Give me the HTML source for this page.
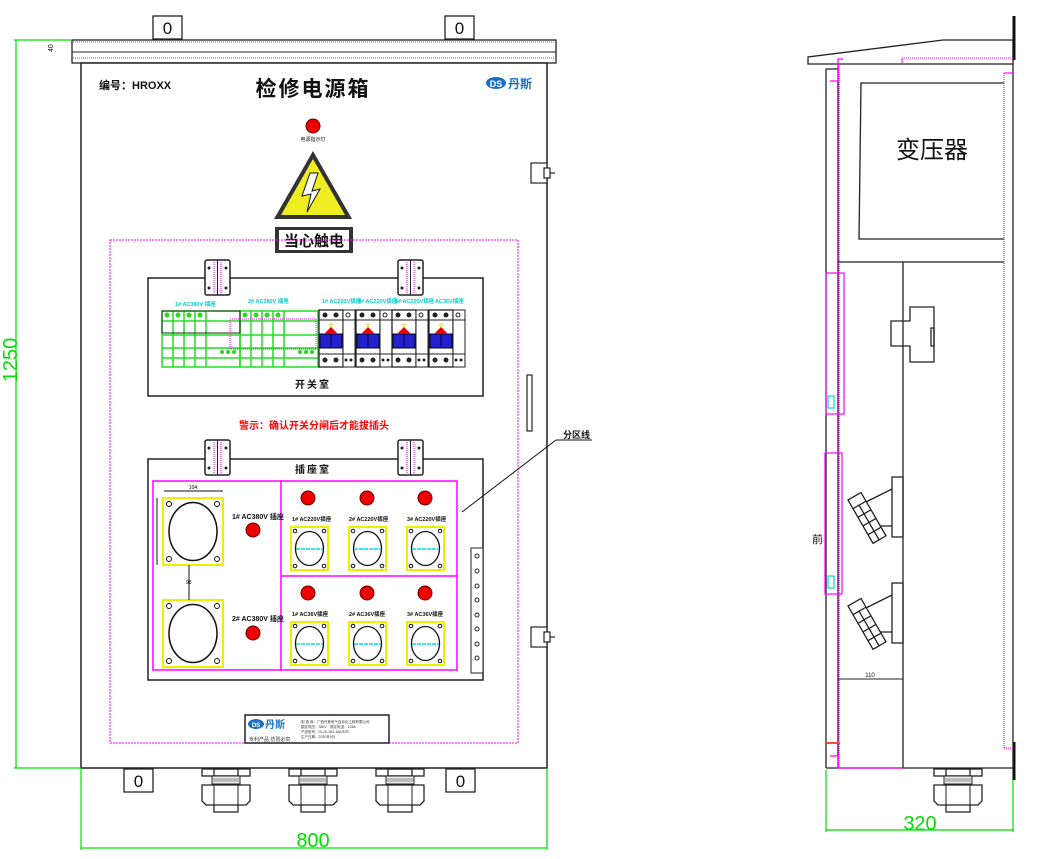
<!DOCTYPE html>
<html><head><meta charset="utf-8"><style>
html,body{margin:0;padding:0;background:#fff;}
svg{display:block;font-family:"Liberation Sans","Noto Sans CJK SC",sans-serif;}
</style></head><body>
<svg width="1045" height="859" viewBox="0 0 1045 859" xmlns="http://www.w3.org/2000/svg">
<defs>
<g id="hinge"><rect x="0" y="0" width="25" height="35" fill="#fff" stroke="#222" stroke-width="1.5" rx="2"/><line x1="12.5" y1="0" x2="12.5" y2="35" stroke="#222"/><line x1="9" y1="2" x2="9" y2="33" stroke="#f0f" stroke-dasharray="1,1"/><line x1="16" y1="2" x2="16" y2="33" stroke="#f0f" stroke-dasharray="1,1"/><circle cx="4" cy="8" r="1.5" fill="#222"/><circle cx="21" cy="8" r="1.5" fill="#222"/><circle cx="4" cy="28" r="1.5" fill="#222"/><circle cx="21" cy="28" r="1.5" fill="#222"/></g>
<g id="gland"><rect x="-24" y="0" width="48" height="7" fill="#fff" stroke="#222" stroke-width="1.3"/><rect x="-12" y="0" width="24" height="7" fill="none" stroke="#222" stroke-width="1.3"/><rect x="-14" y="7" width="28" height="8" fill="#eee" stroke="#222"/><line x1="-13" y1="10" x2="13" y2="10" stroke="#888"/><line x1="-13" y1="12" x2="13" y2="12" stroke="#888"/><path d="M-24 16 H24 V32 L20 36 H-20 L-24 32 Z" fill="#fff" stroke="#222" stroke-width="1.3"/><line x1="-12" y1="16" x2="-12" y2="36" stroke="#222"/><line x1="12" y1="16" x2="12" y2="36" stroke="#222"/><path d="M-12 36 V43 H12 V36" fill="none" stroke="#222" stroke-width="1.3"/></g>
<g id="tab"><rect x="0" y="0" width="29" height="23" fill="#fff" stroke="#222" stroke-width="1.3"/><text x="14.5" y="18" font-size="17" text-anchor="middle" fill="#111">0</text></g>
<g id="led"><circle r="7" fill="#e00" stroke="#600" stroke-width="1"/></g>
<g id="ssock"><rect x="0" y="0" width="37" height="43" fill="#fff" stroke="#ee0" stroke-width="2"/><ellipse cx="18.5" cy="21.5" rx="14" ry="17" fill="#fff" stroke="#111" stroke-width="1.3"/><line x1="5" y1="22" x2="32" y2="22" stroke="#0dd" stroke-width="1.5" stroke-dasharray="4,1"/><circle cx="4" cy="4" r="1.8" fill="none" stroke="#111"/><circle cx="33" cy="4" r="1.8" fill="none" stroke="#111"/><circle cx="4" cy="39" r="1.8" fill="none" stroke="#111"/><circle cx="33" cy="39" r="1.8" fill="none" stroke="#111"/></g>
<g id="bsock"><rect x="0" y="0" width="60" height="67" fill="#fff" stroke="#ee0" stroke-width="2"/><ellipse cx="30" cy="33.5" rx="24" ry="29" fill="#fff" stroke="#111" stroke-width="1.5"/><circle cx="6" cy="6" r="2.5" fill="none" stroke="#111"/><circle cx="54" cy="6" r="2.5" fill="none" stroke="#111"/><circle cx="6" cy="61" r="2.5" fill="none" stroke="#111"/><circle cx="54" cy="61" r="2.5" fill="none" stroke="#111"/></g>
<g id="brk"><rect x="0" y="0" width="24" height="57" fill="#fff" stroke="#222" stroke-width="1.3"/><rect x="24" y="0" width="12" height="57" fill="#fff" stroke="#222"/><line x1="0" y1="10" x2="36" y2="10" stroke="#222"/><line x1="0" y1="44" x2="36" y2="44" stroke="#222"/><circle cx="6" cy="5" r="2.5" fill="#222"/><circle cx="17" cy="5" r="2.5" fill="#222"/><circle cx="29" cy="5" r="2" fill="none" stroke="#222"/><circle cx="6" cy="50" r="2.5" fill="#222"/><circle cx="17" cy="50" r="2.5" fill="#222"/><circle cx="27" cy="50" r="1.5" fill="#222"/><circle cx="32" cy="50" r="1.5" fill="#222"/><rect x="1" y="24" width="22" height="14" fill="#22c" stroke="#003"/><path d="M5 24 L12 17 L19 24 Z" fill="#e00"/><circle cx="12" cy="15" r="2" fill="#ee6"/><line x1="12" y1="24" x2="12" y2="36" stroke="#003"/></g>
</defs>

<!-- LEFT VIEW -->
<use href="#tab" x="153" y="16"/><use href="#tab" x="445" y="16"/>
<rect x="72" y="40" width="484" height="23" fill="#fff" stroke="#222" stroke-width="1.3"/>
<line x1="72" y1="52" x2="556" y2="52" stroke="#222"/>
<line x1="73" y1="42" x2="555" y2="42" stroke="#f0f" stroke-dasharray="1,1"/>
<line x1="73" y1="58" x2="555" y2="58" stroke="#f0f" stroke-dasharray="1,1"/>
<rect x="81" y="63" width="466" height="705" fill="#fff" stroke="#222" stroke-width="1.5"/>

<!-- dimensions -->
<g stroke="#0d0" stroke-width="1.2" fill="none">
<line x1="16" y1="40" x2="16" y2="768"/><line x1="14" y1="40" x2="72" y2="40"/><line x1="14" y1="768" x2="81" y2="768"/>
<line x1="81" y1="768" x2="81" y2="850"/><line x1="547" y1="768" x2="547" y2="850"/><line x1="81" y1="848" x2="547" y2="848"/>
<line x1="826" y1="770" x2="826" y2="832"/><line x1="1013" y1="770" x2="1013" y2="832"/><line x1="826" y1="830" x2="1013" y2="830"/>
</g>
<text x="0" y="0" transform="translate(17,360) rotate(-90)" font-size="20" fill="#0d0" text-anchor="middle">1250</text>
<text x="313" y="847" font-size="20" fill="#0d0" text-anchor="middle">800</text>
<text x="920" y="830" font-size="20" fill="#0d0" text-anchor="middle">320</text>
<text transform="translate(53,52) rotate(-90)" font-size="7" fill="#111">40</text>

<text x="99" y="89" font-size="11" font-weight="bold" fill="#111">编号：HROXX</text>
<text x="313" y="96" font-size="21" font-weight="bold" fill="#111" text-anchor="middle" letter-spacing="2">检修电源箱</text>
<ellipse cx="496" cy="83" rx="10" ry="6" fill="#1a6fc0"/><text x="496" y="87" font-size="9" fill="#fff" font-weight="bold" text-anchor="middle">DS</text>
<text x="508" y="88" font-size="12" font-weight="bold" fill="#1a6fc0">丹斯</text>

<use href="#led" x="313" y="126"/>
<text x="313" y="141" font-size="5" fill="#111" text-anchor="middle">电源指示灯</text>
<path d="M313 151 L352 219 L274 219 Z" fill="#333"/>
<path d="M313 159 L345 215 L281 215 Z" fill="#ee2"/>
<path d="M310 173 L302 196 L311 194 L307 212 L320 189 L312 191 L318 173 Z" fill="#fff" stroke="#111"/>
<rect x="275" y="227" width="78" height="26" fill="#333"/>
<rect x="279" y="230" width="70" height="20" fill="#fff"/>
<text x="314" y="246" font-size="15" font-weight="bold" fill="#111" text-anchor="middle">当心触电</text>

<rect x="110" y="240" width="408" height="503" fill="none" stroke="#f0f" stroke-dasharray="2,1"/>

<!-- switch room -->
<rect x="148" y="278" width="335" height="118" fill="none" stroke="#222" stroke-width="1.5"/>
<use href="#hinge" x="205" y="260"/><use href="#hinge" x="398" y="260"/>
<g font-size="5.5" fill="#0cc" font-weight="bold">
<text x="175" y="306">1# AC380V 插座</text><text x="248" y="303">2# AC380V 插座</text>
<text x="322" y="303">1# AC220V插座</text><text x="358" y="303">2# AC220V插座</text><text x="395" y="303">3# AC220V插座</text><text x="435" y="303">AC36V插座</text>
</g>
<g stroke="#2d2" stroke-width="1.5" fill="none">
<rect x="162" y="311" width="78" height="56"/><rect x="240" y="311" width="78" height="56"/>
<line x1="162" y1="321" x2="318" y2="321"/><line x1="162" y1="335" x2="318" y2="335"/><line x1="162" y1="348" x2="318" y2="348"/><line x1="162" y1="358" x2="318" y2="358"/>
<line x1="173" y1="311" x2="173" y2="367"/><line x1="184" y1="311" x2="184" y2="367"/><line x1="195" y1="311" x2="195" y2="367"/><line x1="206" y1="311" x2="206" y2="367"/>
<line x1="251" y1="311" x2="251" y2="367"/><line x1="262" y1="311" x2="262" y2="367"/><line x1="273" y1="311" x2="273" y2="367"/><line x1="284" y1="311" x2="284" y2="367"/>
</g>
<g fill="#2d2"><circle cx="167" cy="315" r="2.5"/><circle cx="178" cy="315" r="2.5"/><circle cx="189" cy="315" r="2.5"/><circle cx="200" cy="315" r="2.5"/><circle cx="245" cy="315" r="2.5"/><circle cx="256" cy="315" r="2.5"/><circle cx="267" cy="315" r="2.5"/><circle cx="278" cy="315" r="2.5"/><circle cx="222" cy="352" r="2"/><circle cx="228" cy="352" r="2"/><circle cx="234" cy="352" r="2"/><circle cx="300" cy="352" r="2"/><circle cx="306" cy="352" r="2"/><circle cx="312" cy="352" r="2"/></g>
<rect x="162" y="311" width="78" height="22" fill="none" stroke="#222"/>
<rect x="230" y="319" width="86" height="30" fill="none" stroke="#f0f" stroke-dasharray="1,1"/>
<use href="#brk" x="319" y="310"/><use href="#brk" x="356" y="310"/><use href="#brk" x="392" y="310"/><use href="#brk" x="429" y="310"/>
<text x="313" y="388" font-size="10" font-weight="bold" fill="#111" text-anchor="middle" letter-spacing="2">开关室</text>
<text x="314" y="429" font-size="10" font-weight="bold" fill="#f00" text-anchor="middle">警示：确认开关分闸后才能拔插头</text>

<!-- socket room -->
<rect x="148" y="459" width="335" height="221" fill="none" stroke="#222" stroke-width="1.5"/>
<use href="#hinge" x="205" y="440"/><use href="#hinge" x="398" y="440"/>
<text x="313" y="473" font-size="10" font-weight="bold" fill="#111" text-anchor="middle" letter-spacing="2">插座室</text>
<rect x="153" y="481" width="304" height="189" fill="none" stroke="#f0f" stroke-width="1.5"/>
<line x1="281" y1="481" x2="281" y2="670" stroke="#f0f" stroke-width="1.5"/>
<line x1="281" y1="576" x2="457" y2="576" stroke="#f0f" stroke-width="1.5"/>
<use href="#bsock" x="163" y="498"/><use href="#bsock" x="163" y="600"/>
<line x1="164" y1="491" x2="223" y2="491" stroke="#111"/><text x="193" y="489" font-size="5" text-anchor="middle">104</text>
<line x1="157" y1="498" x2="157" y2="565" stroke="#111"/>
<line x1="189" y1="565" x2="189" y2="600" stroke="#111"/><text x="186" y="584" font-size="5">98</text>
<text x="232" y="519" font-size="7" font-weight="bold" fill="#111">1# AC380V 插座</text><use href="#led" x="253" y="530"/>
<text x="232" y="621" font-size="7" font-weight="bold" fill="#111">2# AC380V 插座</text><use href="#led" x="253" y="633"/>
<use href="#led" x="308" y="498"/><use href="#led" x="367" y="498"/><use href="#led" x="425" y="498"/>
<use href="#led" x="308" y="593"/><use href="#led" x="367" y="593"/><use href="#led" x="425" y="593"/>
<g font-size="5.5" font-weight="bold" fill="#111">
<text x="292" y="521">1# AC220V插座</text><text x="349" y="521">2# AC220V插座</text><text x="407" y="521">3# AC220V插座</text>
<text x="292" y="616">1# AC36V插座</text><text x="349" y="616">2# AC36V插座</text><text x="407" y="616">3# AC36V插座</text>
</g>
<use href="#ssock" x="291" y="527"/><use href="#ssock" x="349" y="527"/><use href="#ssock" x="407" y="527"/>
<use href="#ssock" x="291" y="622"/><use href="#ssock" x="349" y="622"/><use href="#ssock" x="407" y="622"/>
<rect x="471" y="548" width="12" height="125" fill="#fff" stroke="#222"/>
<g fill="none" stroke="#222"><circle cx="477" cy="556" r="2"/><circle cx="477" cy="571" r="2"/><circle cx="477" cy="586" r="2"/><circle cx="477" cy="600" r="2"/><circle cx="477" cy="615" r="2"/><circle cx="477" cy="629" r="2"/><circle cx="477" cy="644" r="2"/><circle cx="477" cy="658" r="2"/></g>
<line x1="462" y1="512" x2="556" y2="440" stroke="#111"/>
<line x1="556" y1="440" x2="592" y2="440" stroke="#111"/>
<text x="563" y="438" font-size="9" font-weight="bold" fill="#111">分区线</text>

<!-- door hinges & handle -->
<g fill="#fff" stroke="#222" stroke-width="1.2">
<rect x="531" y="163" width="16" height="20"/><rect x="544" y="168" width="6" height="10"/><line x1="550" y1="173" x2="555" y2="173"/>
<rect x="531" y="627" width="16" height="20"/><rect x="544" y="632" width="6" height="10"/><line x1="550" y1="637" x2="555" y2="637"/>
<rect x="527" y="375" width="5" height="56"/>
</g>

<!-- nameplate -->
<rect x="245" y="715" width="144" height="28" fill="#fff" stroke="#222" stroke-width="1.5"/>
<ellipse cx="256" cy="724" rx="8" ry="5" fill="#1a6fc0"/><text x="256" y="727" font-size="6" fill="#fff" font-weight="bold" text-anchor="middle">DS</text>
<text x="265" y="728" font-size="10" font-weight="bold" fill="#1a6fc0">丹斯</text>
<text x="249" y="741" font-size="5" fill="#333">专利产品 仿冒必究</text>
<g font-size="3.5" fill="#333"><text x="301" y="723">制 造 商：广西丹斯电气自动化工程有限公司</text><text x="301" y="728">额定电压：380V　额定电流：125A</text><text x="301" y="733">产品型号：DLJX-283-4A6/32B</text><text x="301" y="738">生产日期：2020年9月</text></g>

<!-- bottom -->
<use href="#tab" x="124" y="769"/><use href="#tab" x="446" y="769"/>
<use href="#gland" x="226" y="769"/><use href="#gland" x="313" y="769"/><use href="#gland" x="400" y="769"/>

<!-- RIGHT VIEW -->
<path d="M808 57 L808 64 L1013 64 L1013 40 L943 40 Z" fill="#fff" stroke="#222" stroke-width="1.3"/>
<line x1="1014" y1="16" x2="1014" y2="60" stroke="#111" stroke-width="3"/>
<line x1="1014" y1="742" x2="1014" y2="780" stroke="#111" stroke-width="3"/>
<line x1="902" y1="58" x2="1013" y2="58" stroke="#f0f" stroke-dasharray="1,1"/>
<line x1="902" y1="58" x2="902" y2="63" stroke="#f0f"/>
<g fill="none" stroke="#222" stroke-width="1.3">
<path d="M826 768 V69 H838"/><line x1="838" y1="64" x2="838" y2="768"/><line x1="1013" y1="64" x2="1013" y2="768"/>
<line x1="826" y1="768" x2="1013" y2="768"/>
<path d="M1004 83 H861 L859 239 H1004"/>
<line x1="838" y1="262" x2="1004" y2="262"/><line x1="903" y1="262" x2="903" y2="768"/>
<path d="M910 307 H934 V362 H910 V346 H891 V321 H910 Z"/>
<rect x="931" y="328" width="3" height="18"/>
<line x1="838" y1="679" x2="903" y2="679" stroke-width="1"/>
<rect x="892" y="477" width="11" height="60"/><rect x="892" y="583" width="11" height="60"/>
<line x1="892" y1="489" x2="866" y2="502"/><line x1="892" y1="526" x2="878" y2="526"/>
<line x1="892" y1="595" x2="866" y2="608"/><line x1="892" y1="632" x2="878" y2="632"/>
</g>
<g fill="#fff" stroke="#222" stroke-width="1.3">
<g transform="translate(848,500) rotate(-30)"><rect x="0" y="0" width="15" height="50"/><line x1="0" y1="10" x2="15" y2="10"/><line x1="0" y1="20" x2="15" y2="20"/><line x1="0" y1="30" x2="15" y2="30"/><line x1="0" y1="40" x2="15" y2="40"/><line x1="7" y1="10" x2="7" y2="50"/></g>
<g transform="translate(848,606) rotate(-30)"><rect x="0" y="0" width="15" height="50"/><line x1="0" y1="10" x2="15" y2="10"/><line x1="0" y1="20" x2="15" y2="20"/><line x1="0" y1="30" x2="15" y2="30"/><line x1="0" y1="40" x2="15" y2="40"/><line x1="7" y1="10" x2="7" y2="50"/></g>
</g>
<g fill="none" stroke="#f0f" stroke-width="1.2">
<path d="M843 59 H838 V81 H830"/>
<line x1="839" y1="64" x2="839" y2="768" stroke-dasharray="1,1"/>
<path d="M1004 73 H1013"/><line x1="1004" y1="73" x2="1004" y2="748" stroke-dasharray="1,1"/><line x1="1004" y1="748" x2="1013" y2="748" stroke-dasharray="1,1"/>
<rect x="826" y="273" width="18" height="141"/><rect x="825" y="453" width="17" height="141"/>
<line x1="826" y1="743" x2="840" y2="743" stroke="#f44" stroke-width="2"/>
<path d="M830 756 H838 V768 H903" />
</g>
<g fill="none" stroke="#0dd" stroke-width="1.2"><rect x="828" y="396" width="6" height="12"/><rect x="828" y="576" width="6" height="12"/></g>
<text x="932" y="158" font-size="24" fill="#111" text-anchor="middle">变压器</text>
<text x="812" y="543" font-size="11" fill="#111">前</text>
<text x="870" y="677" font-size="6" fill="#111" text-anchor="middle">110</text>
<use href="#gland" x="958" y="769"/>
</svg>
</body></html>
